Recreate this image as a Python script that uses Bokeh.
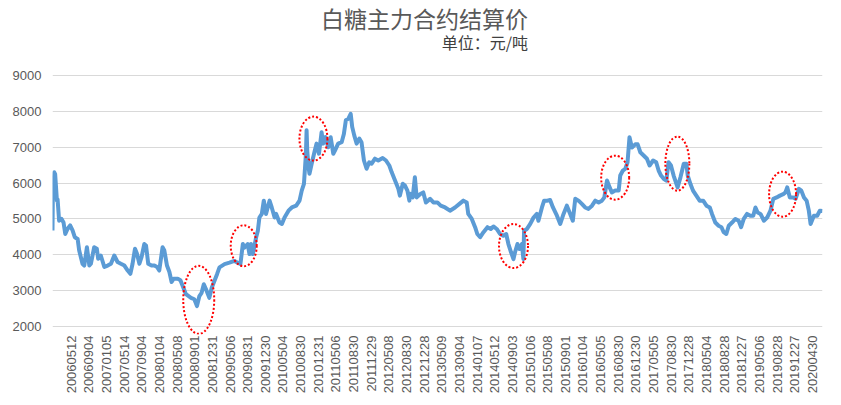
from math import pi
from bokeh.plotting import figure
from bokeh.models import FixedTicker, Range1d
from bokeh.core.properties import value
from bokeh.embed import file_html
from bokeh.resources import INLINE

# trading-day index (from first trading day in the chart) and settlement price (yuan/ton)
day_index = [
    0, 2, 5, 8, 12, 20, 23, 30, 41, 50, 58, 68, 80, 91, 101, 114, 121, 136, 144, 156,
    167, 174, 189, 201, 207, 219, 235, 250, 265, 280, 295, 310, 326, 341, 353, 363, 374, 383, 394, 404,
    416, 424, 434, 449, 462, 474, 484, 499, 507, 519, 530, 540, 549, 568, 580, 589,
    605, 628, 643, 655, 666, 676, 686, 696, 711, 722, 734, 746, 757, 780, 802, 825, 840, 852,
    863, 870, 885, 893, 900, 908, 923, 931, 938, 949, 958, 968, 984, 994, 1007, 1014, 1029, 1040,
    1052, 1070, 1085, 1105, 1120, 1130, 1140, 1145, 1149, 1152, 1155, 1161, 1165, 1175, 1189, 1197,
    1208, 1220, 1227, 1238, 1250, 1261, 1273, 1280, 1295, 1311, 1321, 1330, 1341, 1352, 1359, 1368,
    1379, 1391, 1401, 1412, 1424, 1436, 1447, 1462, 1477, 1497, 1512, 1527, 1538, 1553, 1568, 1575,
    1588, 1598, 1609, 1618,
    1621, 1633, 1643, 1651, 1666, 1681, 1693, 1712, 1727, 1745, 1760, 1780, 1802, 1825, 1845, 1863,
    1878, 1885, 1901, 1916, 1926, 1939, 1954, 1972, 1987, 1999, 2014, 2029, 2044, 2057, 2067, 2079,
    2090, 2097, 2108, 2117, 2128, 2135, 2138, 2151, 2166, 2181, 2196, 2203, 2219, 2229, 2244, 2256,
    2269, 2287, 2302, 2317, 2332, 2347, 2359, 2370, 2385, 2400, 2415, 2430, 2446, 2461, 2476, 2491,
    2502, 2514, 2526, 2536, 2551, 2567, 2574, 2586, 2597, 2607, 2616, 2627, 2642, 2653, 2665, 2680,
    2695, 2707, 2723, 2737, 2748, 2759, 2771, 2783, 2793, 2804, 2816, 2834, 2847, 2862, 2874, 2880,
    2892, 2904, 2919, 2934, 2950, 2965, 2980, 2990, 3005, 3020, 3033, 3043, 3055, 3066, 3081, 3096,
    3111, 3122, 3134, 3149, 3164, 3177, 3187, 3197, 3210, 3225, 3240, 3255, 3268, 3283, 3298, 3313,
    3323, 3331, 3343, 3358, 3369, 3384, 3395, 3407, 3419, 3429, 3437, 3452, 3467, 3479, 3491,
]
settle_price = [
    4680, 5900, 6000, 6300, 6250, 5510, 5550, 4950, 5000, 4900, 4580, 4720, 4820, 4680, 4490, 4440, 4120, 3750, 3700, 4210,
    3700, 3750, 4210, 4170, 3890, 3980, 3660, 3700, 3750, 3980, 3800, 3750, 3700, 3560, 3470, 3750, 4170, 4030, 3750, 3940,
    4300, 4260, 3750, 3700, 3700, 3660, 3560, 4210, 4120, 3700, 3520, 3240, 3330, 3330, 3290, 3150,
    2900, 2800, 2760, 2570, 2850, 2940, 3180, 3040, 2800, 3080, 3270, 3460, 3650, 3740, 3780, 3830, 3780, 3740,
    4300, 4200, 4300, 4020, 4300, 4020, 4480, 4670, 5040, 5140, 5510, 5140, 5510, 5320, 5040, 5140, 4900, 4860,
    5040, 5230, 5320, 5370, 5510, 5790, 5980, 6440, 6820, 7470, 6900, 6440, 6260, 6540, 6900, 7100,
    6820, 7420, 7100, 7280, 7000, 7280, 6820, 6900, 7100, 7140, 7370, 7750, 7790, 7930, 7560, 7330,
    7100, 7240, 7140, 6630, 6400, 6580, 6540, 6680, 6630, 6700, 6630, 6490, 6300, 6070, 5840, 5650,
    5980, 5930, 5790, 5510,
    5700, 5600, 6160, 5600, 5690, 5740, 5460, 5560, 5460, 5460, 5370, 5320, 5230, 5320, 5420, 5510,
    5460, 5140, 5000, 4770, 4580, 4490, 4630, 4770, 4720, 4790, 4720, 4580, 4530, 4580, 4300, 4070,
    3880, 4070, 4300, 4160, 4300, 3880, 4670, 4720, 4860, 5040, 5140, 4950, 5320, 5510, 5510, 5530,
    5320, 5090, 4860, 5140, 5370, 5140, 4950, 5560, 5510, 5420, 5320, 5280, 5370, 5510, 5460, 5510,
    5600, 6070, 5880, 5740, 5790, 5790, 6210, 6350, 6400, 6580, 7280, 6990, 7080, 7080, 6860, 6770,
    6680, 6490, 6630, 6580, 6350, 6210, 6120, 6070, 6580, 6490, 6210, 5880, 6160, 6540, 6540, 6210,
    5980, 5790, 5650, 5510, 5510, 5370, 5320, 5140, 4900, 4810, 4770, 4630, 4580, 4810, 4900, 5000,
    4950, 4770, 5000, 5140, 5090, 5090, 5320, 5180, 5140, 4950, 5040, 5230, 5560, 5600, 5650, 5690,
    5740, 5880, 5600, 5600, 5560, 5840, 5790, 5600, 5510, 5230, 4860, 5090, 5090, 5230, 5220,
]

tick_labels = [
    "20060512", "20060904", "20070105", "20070514", "20070904", "20080104", "20080508",
    "20080901", "20081231", "20090506", "20090831", "20091230", "20100504", "20100830",
    "20101231", "20110506", "20110830", "20111229", "20120508", "20120830", "20121228",
    "20130509", "20130904", "20140107", "20140512", "20140903", "20150106", "20150508",
    "20150901", "20160104", "20160505", "20160830", "20161230", "20170505", "20170830",
    "20171228", "20180504", "20180828", "20181227", "20190506", "20190828", "20191227",
    "20200430",
]
tick_first_day = 85
tick_step_days = 80
y_ticks = [2000, 3000, 4000, 5000, 6000, 7000, 8000, 9000]

title_text = "白糖主力合约结算价"
subtitle_text = "单位：元/吨"

# highlighted episodes (center day index, center price)
mark_day = [663, 867, 1183, 2090, 2551, 2833, 3310]
mark_price = [2743, 4252, 7240, 4244, 6151, 6542, 5690]
mark_w = [31, 26, 28, 29, 28, 24, 27]
mark_h = [68, 41, 44, 44, 44, 54, 45]

tick_days = [tick_first_day + tick_step_days * i for i in range(len(tick_labels))]

# the frame spans the whole canvas height above the axis so the headings can sit in it
y_lo, y_hi = 1777, 11092
p = figure(
    width=841, height=405, output_backend="svg", toolbar_location=None, title=None,
    x_range=Range1d(day_index[0], day_index[-1]), y_range=Range1d(y_lo, y_hi),
    min_border_left=52, min_border_right=19, min_border_top=0, min_border_bottom=71,
)
p.outline_line_color = None
p.background_fill_color = "white"
p.border_fill_color = "white"

p.line(day_index, settle_price, line_width=4, line_color="#5B9BD5", line_join="round")
p.ellipse(x=mark_day, y=mark_price, width=mark_w, height=mark_h,
          width_units="screen", height_units="screen",
          fill_color=None, line_color="#FF0000", line_width=2, line_dash="2 2")

# headings, right-aligned at the same edge
head_x = 2156
p.text(x=[head_x], y=[10590], text=[title_text], text_align="right", text_baseline="middle",
       text_color="#595959", text_font=value("Noto Sans CJK SC"), text_font_size="23px")
p.text(x=[head_x], y=[9934], text=[subtitle_text], text_align="right", text_baseline="middle",
       text_color="#404040", text_font=value("Noto Sans CJK SC"), text_font_size="16px")

p.xgrid.grid_line_color = None
p.ygrid.grid_line_color = "#D9D9D9"
p.ygrid.grid_line_width = 1

p.yaxis.ticker = FixedTicker(ticks=y_ticks)
p.xaxis.ticker = FixedTicker(ticks=tick_days)
p.xaxis.major_label_overrides = {d: s for d, s in zip(tick_days, tick_labels)}
p.xaxis.major_label_orientation = pi / 2

for ax in (p.xaxis[0], p.yaxis[0]):
    ax.axis_line_color = None
    ax.major_tick_line_color = None
    ax.minor_tick_line_color = None
    ax.major_tick_in = 0
    ax.major_tick_out = 0
    ax.minor_tick_in = 0
    ax.minor_tick_out = 0
    ax.major_label_text_color = "#595959"
    ax.major_label_text_font = "Liberation Sans"
    ax.major_label_text_font_size = "13px"
p.yaxis.major_label_standoff = 11
p.xaxis.major_label_standoff = 1

open("out.html", "w").write(file_html(p, INLINE))
